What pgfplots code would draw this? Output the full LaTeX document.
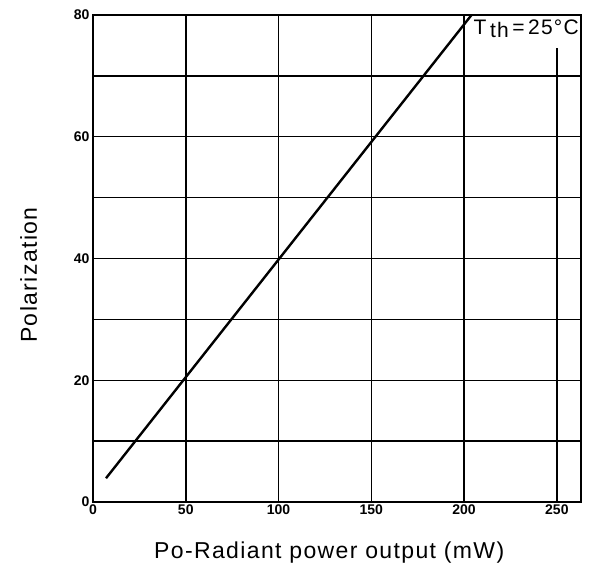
\documentclass[border=0pt]{standalone}
\usepackage{fontspec}
\setmainfont{Liberation Sans}
\newfontfamily\lblfont[LetterSpace=6]{Liberation Sans}
\usepackage{pgfplots}
\pgfplotsset{compat=1.18}
\begin{document}
\begin{tikzpicture}
\path[use as bounding box] (-93pt,-71pt) rectangle (500pt,502pt);
\begin{axis}[
  at={(0,0)}, anchor=south west,
  scale only axis, width=488pt, height=487pt,
  xmin=0, xmax=263, ymin=0, ymax=80,
  xtick={0,50,100,150,200,250},
  ytick={0,20,40,60,80},
  minor ytick={10,30,50,70},
  ymajorgrids, yminorgrids,
  major tick length=0pt, minor tick length=0pt,
  axis line style={line width=1.6pt},
  major grid style={black, line width=1.5pt},
  minor grid style={black, line width=1.5pt},
  tick label style={font=\fontsize{14}{14}\selectfont\bfseries},
  xticklabel style={yshift=1pt},
  /pgf/number format/assume math mode=true,
  xlabel={Po-Radiant power output (mW)},
  ylabel={Polarization},
  xlabel style={at={(axis description cs:0.484,-0.103)}, anchor=center},
  ylabel style={at={(axis description cs:-0.132,0.466)}, anchor=center},
  label style={font=\lblfont\fontsize{23}{23}\selectfont},
  clip=false,
]
\addplot[black, line width=1.5pt] coordinates {(50,0) (50,80)};
\addplot[black, line width=1.5pt] coordinates {(100,0) (100,80)};
\addplot[black, line width=1.5pt] coordinates {(150,0) (150,80)};
\addplot[black, line width=1.5pt] coordinates {(200,0) (200,80)};
\addplot[black, line width=1.5pt] coordinates {(250,0) (250,74.5)};
\addplot[black, line width=2.4pt] coordinates {(7,3.9) (204,80)};
\node[anchor=north east, inner xsep=2pt, inner ysep=5pt, font=\lblfont\fontsize{21}{21}\selectfont] at (rel axis cs:1,1) {T\,\raisebox{-3pt}{th}\,=\,25\textdegree C};
\end{axis}
\end{tikzpicture}
\end{document}
